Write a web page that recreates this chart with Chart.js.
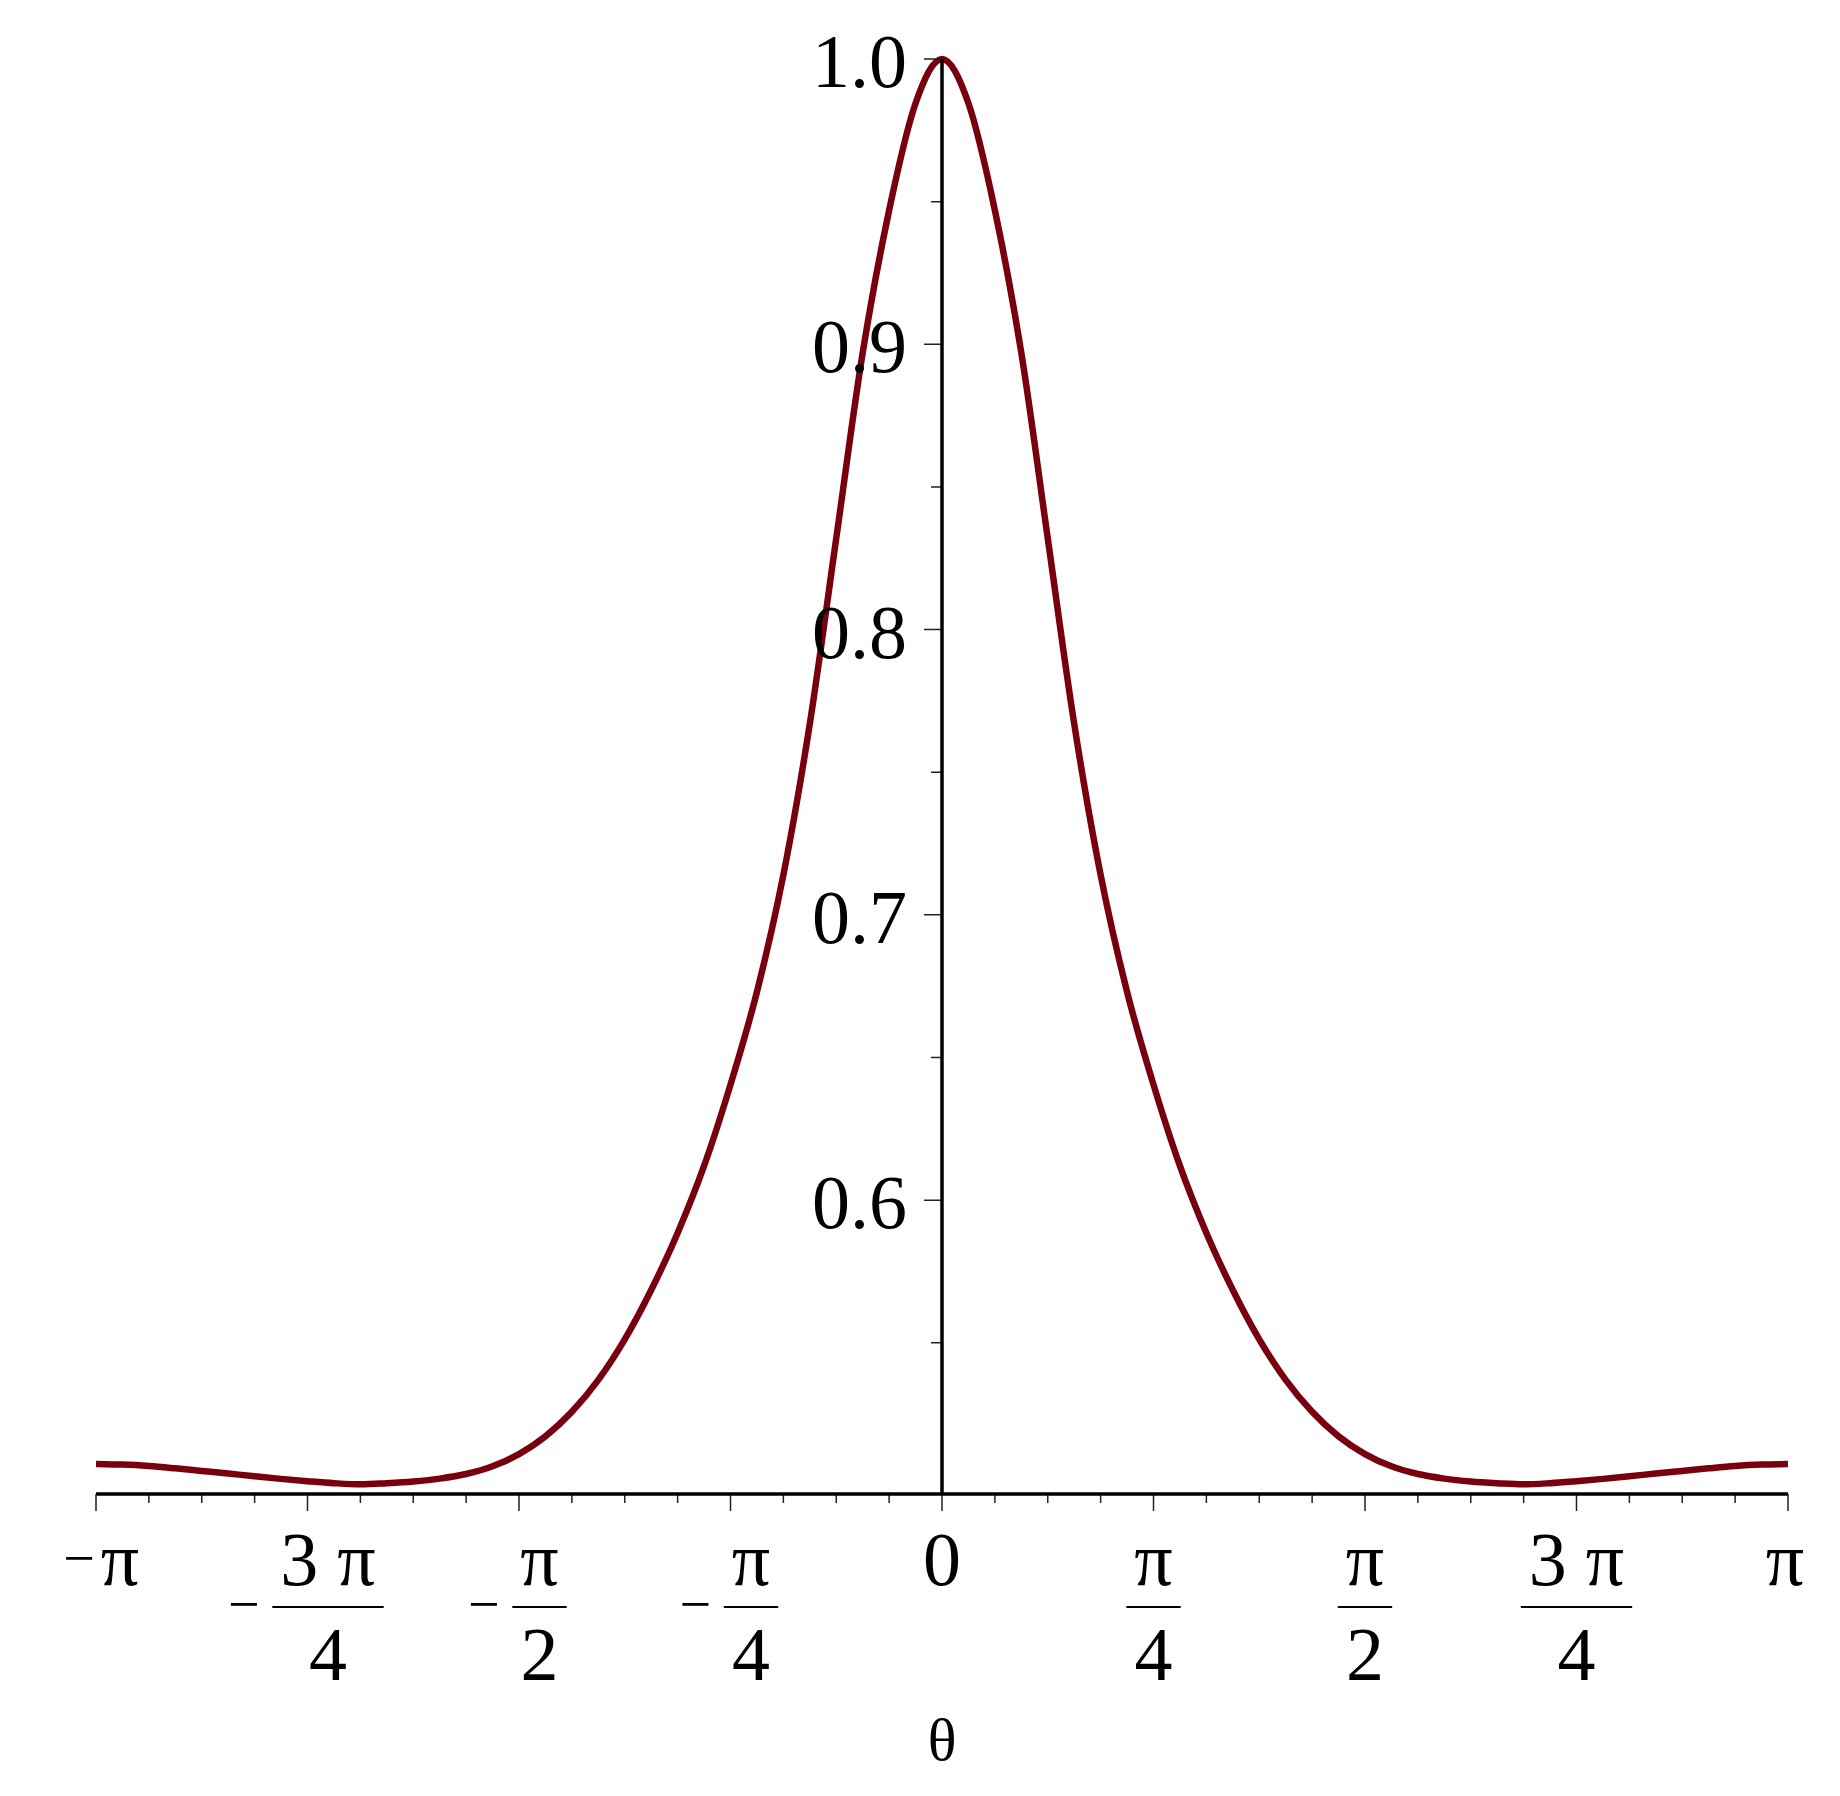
<!DOCTYPE html>
<html>
<head>
<meta charset="utf-8">
<title>theta plot</title>
<script src="https://cdn.jsdelivr.net/npm/chart.js@4.4.1/dist/chart.umd.min.js"></script>
<style>
  html, body { margin: 0; padding: 0; background: #ffffff; }
  #wrap { width: 1840px; height: 1796px; }
</style>
</head>
<body>
<div id="wrap"><canvas id="plot" width="1840" height="1796"></canvas></div>
<script>
// --------------------------------------------------
//  DATA (theta in units of pi, read every pi/32)
// --------------------------------------------------
const thetaOverPi = [
  -1, -0.96875, -0.9375, -0.90625, -0.875, -0.84375, -0.8125, -0.78125,
  -0.75, -0.71875, -0.6875, -0.65625, -0.625, -0.59375, -0.5625, -0.53125,
  -0.5, -0.46875, -0.4375, -0.40625, -0.375, -0.34375, -0.3125, -0.28125,
  -0.25, -0.21875, -0.1875, -0.15625, -0.125, -0.09375, -0.0625, -0.03125,
  0,
  0.03125, 0.0625, 0.09375, 0.125, 0.15625, 0.1875, 0.21875, 0.25,
  0.28125, 0.3125, 0.34375, 0.375, 0.40625, 0.4375, 0.46875, 0.5,
  0.53125, 0.5625, 0.59375, 0.625, 0.65625, 0.6875, 0.71875, 0.75,
  0.78125, 0.8125, 0.84375, 0.875, 0.90625, 0.9375, 0.96875, 1
];

const curveValues = [
  0.5075, 0.5073, 0.5068, 0.5060, 0.5051, 0.5042, 0.5032, 0.5023,
  0.5015, 0.5008, 0.5004, 0.5008, 0.5014, 0.5024, 0.5040, 0.5067,
  0.5110, 0.5172, 0.5258, 0.5370, 0.5512, 0.5685, 0.5885, 0.6120,
  0.6405, 0.6730, 0.7140, 0.7670, 0.8320, 0.8970, 0.9470, 0.9845,
  1.0000,
  0.9845, 0.9470, 0.8970, 0.8320, 0.7670, 0.7140, 0.6730, 0.6405,
  0.6120, 0.5885, 0.5685, 0.5512, 0.5370, 0.5258, 0.5172, 0.5110,
  0.5067, 0.5040, 0.5024, 0.5014, 0.5008, 0.5004, 0.5008, 0.5015,
  0.5023, 0.5032, 0.5042, 0.5051, 0.5060, 0.5068, 0.5073, 0.5075
];

// axis ticks
const yMajorTicks = [0.6, 0.7, 0.8, 0.9, 1.0];
const yTickLabels = ["0.6", "0.7", "0.8", "0.9", "1.0"];
const yMinorTicks = [0.55, 0.65, 0.75, 0.85, 0.95];

const xMajorTicks = [-1, -0.75, -0.5, -0.25, 0, 0.25, 0.5, 0.75, 1];
const xTickSign   = ["−", "−", "−", "−", "", "", "", "", ""];
const xTickNumer  = ["π", "3 π", "π", "π", "0", "π", "π", "3 π", "π"];
const xTickDenom  = ["", "4", "2", "4", "", "4", "2", "4", ""];
const xMinorTicks = [
  -0.9375, -0.875, -0.8125, -0.6875, -0.625, -0.5625, -0.4375, -0.375, -0.3125,
  -0.1875, -0.125, -0.0625, 0.0625, 0.125, 0.1875, 0.3125, 0.375, 0.4375,
  0.5625, 0.625, 0.6875, 0.8125, 0.875, 0.9375
];

const xAxisTitle = "θ";
const yAxisMin = 0.497;
const yAxisMax = 1.0;

// --------------------------------------------------
//  STYLE
// --------------------------------------------------
const serif = '"Liberation Serif", "DejaVu Serif", serif';
const curveColor = "#78000E";
const labelSize = 76;

// --------------------------------------------------
//  AXES, TICKS AND LABELS (drawn over the curve)
// --------------------------------------------------
const mapleAxes = {
    id: "mapleAxes",
    afterDatasetsDraw(chart) {
        const { ctx, scales: { x, y } } = chart;
        const x0 = x.getPixelForValue(0);
        const yBase = y.getPixelForValue(yAxisMin);
        const yTop = y.getPixelForValue(yAxisMax);
        const xLeft = x.getPixelForValue(-1);
        const xRight = x.getPixelForValue(1);

        ctx.save();

        // tick marks
        ctx.strokeStyle = "#222";
        ctx.lineWidth = 1.5;
        ctx.beginPath();
        yMajorTicks.forEach(v => {
            const py = y.getPixelForValue(v);
            ctx.moveTo(x0 - 18, py);
            ctx.lineTo(x0, py);
        });
        yMinorTicks.forEach(v => {
            const py = y.getPixelForValue(v);
            ctx.moveTo(x0 - 11, py);
            ctx.lineTo(x0, py);
        });
        xMajorTicks.forEach(v => {
            const px = x.getPixelForValue(v);
            ctx.moveTo(px, yBase);
            ctx.lineTo(px, yBase + 17);
        });
        xMinorTicks.forEach(v => {
            const px = x.getPixelForValue(v);
            ctx.moveTo(px, yBase);
            ctx.lineTo(px, yBase + 9);
        });
        ctx.stroke();

        // axis lines
        ctx.strokeStyle = "#000";
        ctx.lineWidth = 3.5;
        ctx.beginPath();
        ctx.moveTo(xLeft, yBase);
        ctx.lineTo(xRight, yBase);
        ctx.moveTo(x0, yBase);
        ctx.lineTo(x0, yTop);
        ctx.stroke();

        ctx.fillStyle = "#000";

        // y tick labels
        ctx.font = `${labelSize}px ${serif}`;
        ctx.textAlign = "right";
        ctx.textBaseline = "alphabetic";
        yMajorTicks.forEach((v, i) => {
            ctx.fillText(yTickLabels[i], x0 - 35, y.getPixelForValue(v) + 28);
        });

        // x tick labels (pi fractions)
        const numBase = yBase + 91;
        const barY = yBase + 113;
        const denBase = yBase + 186;
        xMajorTicks.forEach((v, i) => {
            const px = x.getPixelForValue(v);
            const sign = xTickSign[i], num = xTickNumer[i], den = xTickDenom[i];
            ctx.textAlign = "center";

            if (!den) {
                if (sign) {
                    ctx.font = `56px ${serif}`;
                    ctx.fillText(sign, px - 17, numBase - 8);
                    ctx.font = `${labelSize}px ${serif}`;
                    ctx.fillText(num, px + 24, numBase);
                } else {
                    ctx.font = `${labelSize}px ${serif}`;
                    ctx.fillText(num, v === 1 ? px - 3 : px, numBase);
                }
                return;
            }

            ctx.font = `${labelSize}px ${serif}`;
            const barW = ctx.measureText(num).width + 16;
            let cx = px;
            if (sign) {
                const total = 25 + 16 + barW;
                const start = px - total / 2;
                cx = start + 41 + barW / 2;
                ctx.font = `56px ${serif}`;
                ctx.fillText(sign, start + 12.5, barY + 16);
                ctx.font = `${labelSize}px ${serif}`;
            }
            ctx.fillText(num, cx, numBase);
            ctx.fillRect(cx - barW / 2, barY - 1, barW, 2);
            ctx.fillText(den, cx, denBase);
        });

        // axis title
        ctx.font = `60px ${serif}`;
        ctx.textAlign = "center";
        ctx.fillText(xAxisTitle, x0, yBase + 266);

        ctx.restore();
    }
};

// --------------------------------------------------
//  CHART
// --------------------------------------------------
new Chart(document.getElementById("plot"), {
    type: "line",
    data: {
        datasets: [{
            data: thetaOverPi.map((t, i) => ({ x: t, y: curveValues[i] })),
            borderColor: curveColor,
            borderWidth: 6.5,
            pointRadius: 0,
            fill: false,
            cubicInterpolationMode: "monotone",
            clip: false
        }]
    },
    options: {
        responsive: false,
        animation: false,
        devicePixelRatio: 1,
        events: [],
        layout: { padding: { left: 96, right: 52, top: 59, bottom: 302 } },
        plugins: { legend: { display: false }, tooltip: { enabled: false } },
        scales: {
            x: { type: "linear", min: -1, max: 1, display: false },
            y: { type: "linear", min: yAxisMin, max: yAxisMax, display: false }
        }
    },
    plugins: [mapleAxes]
});
</script>
</body>
</html>
